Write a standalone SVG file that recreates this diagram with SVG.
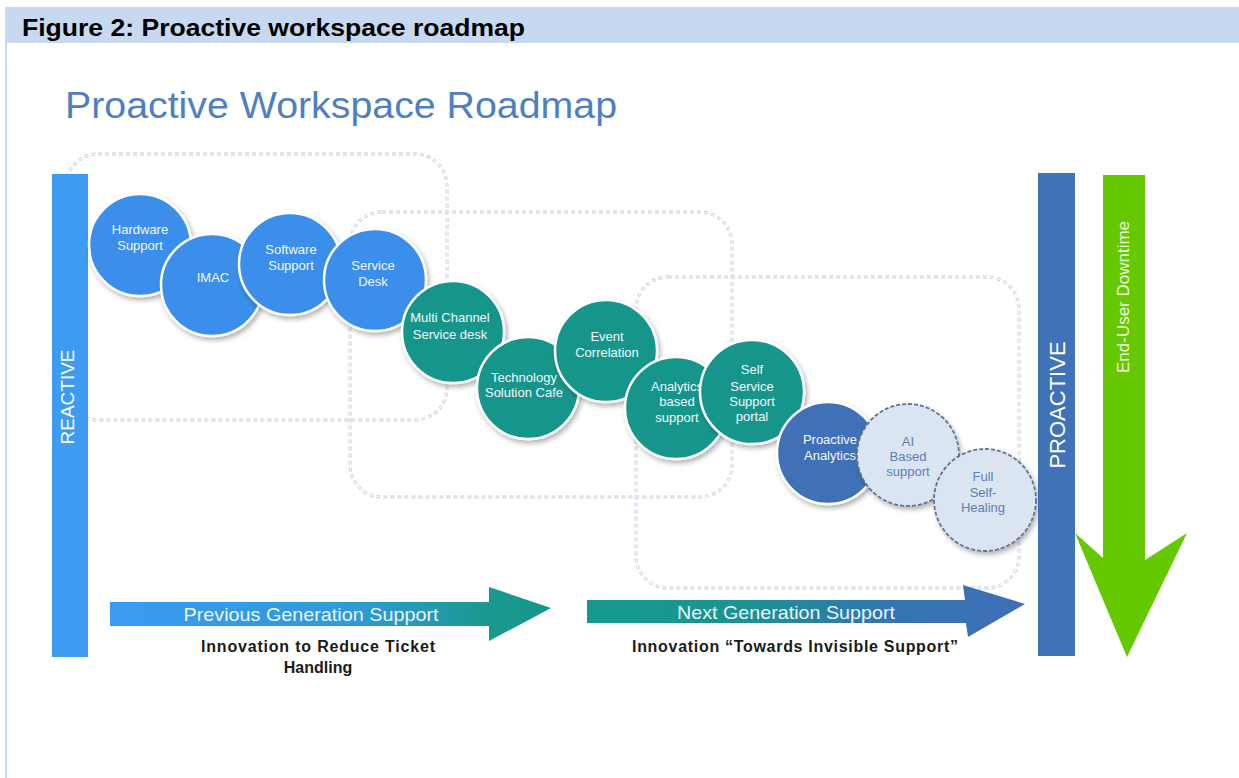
<svg xmlns="http://www.w3.org/2000/svg" width="1239" height="778" viewBox="0 0 1239 778">
<defs>
<style>
.hdr{font-family:"Liberation Sans",Arial,sans-serif;font-weight:bold;font-size:23px;fill:#000}
.title{font-family:"Liberation Sans",Arial,sans-serif;font-size:37px;fill:#4e80c0}
.ct{font-family:"Liberation Sans",Arial,sans-serif;font-size:13px;fill:#f2f7ff;text-anchor:middle}
.ctl{font-family:"Liberation Sans",Arial,sans-serif;font-size:13px;fill:#5b80b8;text-anchor:middle}
.bar{font-family:"Liberation Sans",Arial,sans-serif;fill:#ffffff;text-anchor:middle}
.al{font-family:"Liberation Sans",Arial,sans-serif;font-size:19px;fill:#eaf4ff;text-anchor:middle}
.cap{font-family:"Liberation Sans",Arial,sans-serif;font-weight:bold;font-size:16px;fill:#1a1a1a;text-anchor:middle}
.dot1{fill:none;stroke:#c3ccd9;stroke-width:3;stroke-dasharray:4 3}
.dot2{fill:none;stroke:#ffffff;stroke-width:1.2;stroke-dasharray:4 3}
.cb{fill:#3b8fea;stroke:#ffffff;stroke-width:2.5}
.cg{fill:#16968b;stroke:#ffffff;stroke-width:2.5}
.cd{fill:#3f71b6;stroke:#ffffff;stroke-width:2.5}
.cl{fill:#dbe5f2;stroke:#5e7392;stroke-width:1.8;stroke-dasharray:4 2}
</style>
<filter id="sh" x="-20%" y="-20%" width="150%" height="150%">
<feDropShadow dx="2" dy="3" stdDeviation="2.5" flood-color="#000" flood-opacity="0.3"/>
</filter>
<linearGradient id="g1" x1="110" y1="0" x2="551" y2="0" gradientUnits="userSpaceOnUse">
<stop offset="0" stop-color="#3b9bf2"/>
<stop offset="0.55" stop-color="#2f9ad8"/>
<stop offset="0.85" stop-color="#1a9990"/>
<stop offset="1" stop-color="#16958a"/>
</linearGradient>
<linearGradient id="g2" x1="587" y1="0" x2="1025" y2="0" gradientUnits="userSpaceOnUse">
<stop offset="0" stop-color="#169a8d"/>
<stop offset="0.35" stop-color="#1a9490"/>
<stop offset="0.7" stop-color="#3474b0"/>
<stop offset="1" stop-color="#3f6fb7"/>
</linearGradient>
</defs>

<rect x="0" y="0" width="1239" height="778" fill="#ffffff"/>
<rect x="5" y="7" width="1234" height="36" fill="#c6d9f0"/>
<rect x="5" y="43" width="2" height="735" fill="#c6d9f0"/>
<text class="hdr" x="22" y="36" textLength="503" lengthAdjust="spacingAndGlyphs">Figure 2: Proactive workspace roadmap</text>
<text class="title" x="65" y="118" textLength="552" lengthAdjust="spacingAndGlyphs">Proactive Workspace Roadmap</text>

<g id="zones">
<rect class="dot1" x="66" y="154" width="381" height="266" rx="32"/>
<rect class="dot2" x="66" y="154" width="381" height="266" rx="32"/>
<rect class="dot1" x="350" y="212" width="382" height="285" rx="32"/>
<rect class="dot2" x="350" y="212" width="382" height="285" rx="32"/>
<rect class="dot1" x="636" y="277" width="383" height="311" rx="32"/>
<rect class="dot2" x="636" y="277" width="383" height="311" rx="32"/>
</g>

<g id="reactive">
<rect x="52" y="174" width="36" height="483" fill="#3d9bf2"/>
<text class="bar" font-size="19" transform="translate(74,397) rotate(-90)">REACTIVE</text>
</g>

<g id="n1"><circle class="cb" cx="140" cy="245" r="51" filter="url(#sh)"/><text class="ct" x="140" y="234">Hardware</text><text class="ct" x="140" y="250">Support</text></g>
<g id="n2"><circle class="cb" cx="212" cy="285" r="51" filter="url(#sh)"/><text class="ct" x="213" y="282">IMAC</text></g>
<g id="n3"><circle class="cb" cx="290" cy="264" r="51" filter="url(#sh)"/><text class="ct" x="291" y="254">Software</text><text class="ct" x="291" y="270">Support</text></g>
<g id="n4"><circle class="cb" cx="375" cy="280" r="51" filter="url(#sh)"/><text class="ct" x="373" y="270">Service</text><text class="ct" x="373" y="286">Desk</text></g>
<g id="n5"><circle class="cg" cx="453" cy="332" r="51" filter="url(#sh)"/><text class="ct" x="450" y="322">Multi Channel</text><text class="ct" x="450" y="339">Service desk</text></g>
<g id="n6"><circle class="cg" cx="528" cy="388" r="51" filter="url(#sh)"/><text class="ct" x="524" y="382">Technology</text><text class="ct" x="524" y="397">Solution Cafe</text></g>
<g id="n7"><circle class="cg" cx="606" cy="351" r="51" filter="url(#sh)"/><text class="ct" x="607" y="341">Event</text><text class="ct" x="607" y="357">Correlation</text></g>
<g id="n8"><circle class="cg" cx="676" cy="408" r="51" filter="url(#sh)"/><text class="ct" x="677" y="391">Analytics</text><text class="ct" x="677" y="406">based</text><text class="ct" x="677" y="422">support</text></g>
<g id="n9"><circle class="cg" cx="752" cy="392" r="52" filter="url(#sh)"/><text class="ct" x="752" y="374">Self</text><text class="ct" x="752" y="391">Service</text><text class="ct" x="752" y="406">Support</text><text class="ct" x="752" y="421">portal</text></g>
<g id="n10"><circle class="cd" cx="828" cy="453" r="51" filter="url(#sh)"/><text class="ct" x="830" y="444">Proactive</text><text class="ct" x="830" y="460">Analytics</text></g>
<g id="n11"><circle class="cl" cx="908" cy="455" r="51" filter="url(#sh)"/><text class="ctl" x="908" y="446">AI</text><text class="ctl" x="908" y="461">Based</text><text class="ctl" x="908" y="476">support</text></g>
<g id="n12"><circle class="cl" cx="985" cy="500" r="51" filter="url(#sh)"/><text class="ctl" x="983" y="481">Full</text><text class="ctl" x="983" y="497">Self-</text><text class="ctl" x="983" y="512">Healing</text></g>

<g id="proactive">
<rect x="1038" y="173" width="37" height="483" fill="#3f72b7"/>
<text class="bar" font-size="22" transform="translate(1065,405) rotate(-90)">PROACTIVE</text>
</g>

<g id="downtime">
<polygon points="1103,175 1145,175 1145,560 1187,533 1127,657 1075,533 1103,558" fill="#66c800"/>
<text class="bar" font-size="17" fill="#eef8dc" style="fill:#eef8dc" transform="translate(1129,297) rotate(-90)">End-User Downtime</text>
</g>

<g id="connectors">
<g id="prev">
<polygon points="110,602 489,602 489,587 551,608 489,641 489,626 110,626" fill="url(#g1)"/>
<text class="al" x="311" y="621" textLength="255" lengthAdjust="spacingAndGlyphs">Previous Generation Support</text>
</g>
<g id="next">
<polygon points="587,600 965,600 963,585 1025,604 968,637 966,623 587,623" fill="url(#g2)"/>
<text class="al" x="786" y="619" textLength="218" lengthAdjust="spacingAndGlyphs">Next Generation Support</text>
</g>
</g>

<text class="cap" x="318" y="652" textLength="234" lengthAdjust="spacing">Innovation  to  Reduce  Ticket</text>
<text class="cap" x="318" y="673">Handling</text>
<text class="cap" x="795" y="652" textLength="326" lengthAdjust="spacing">Innovation  “Towards Invisible  Support”</text>
</svg>
